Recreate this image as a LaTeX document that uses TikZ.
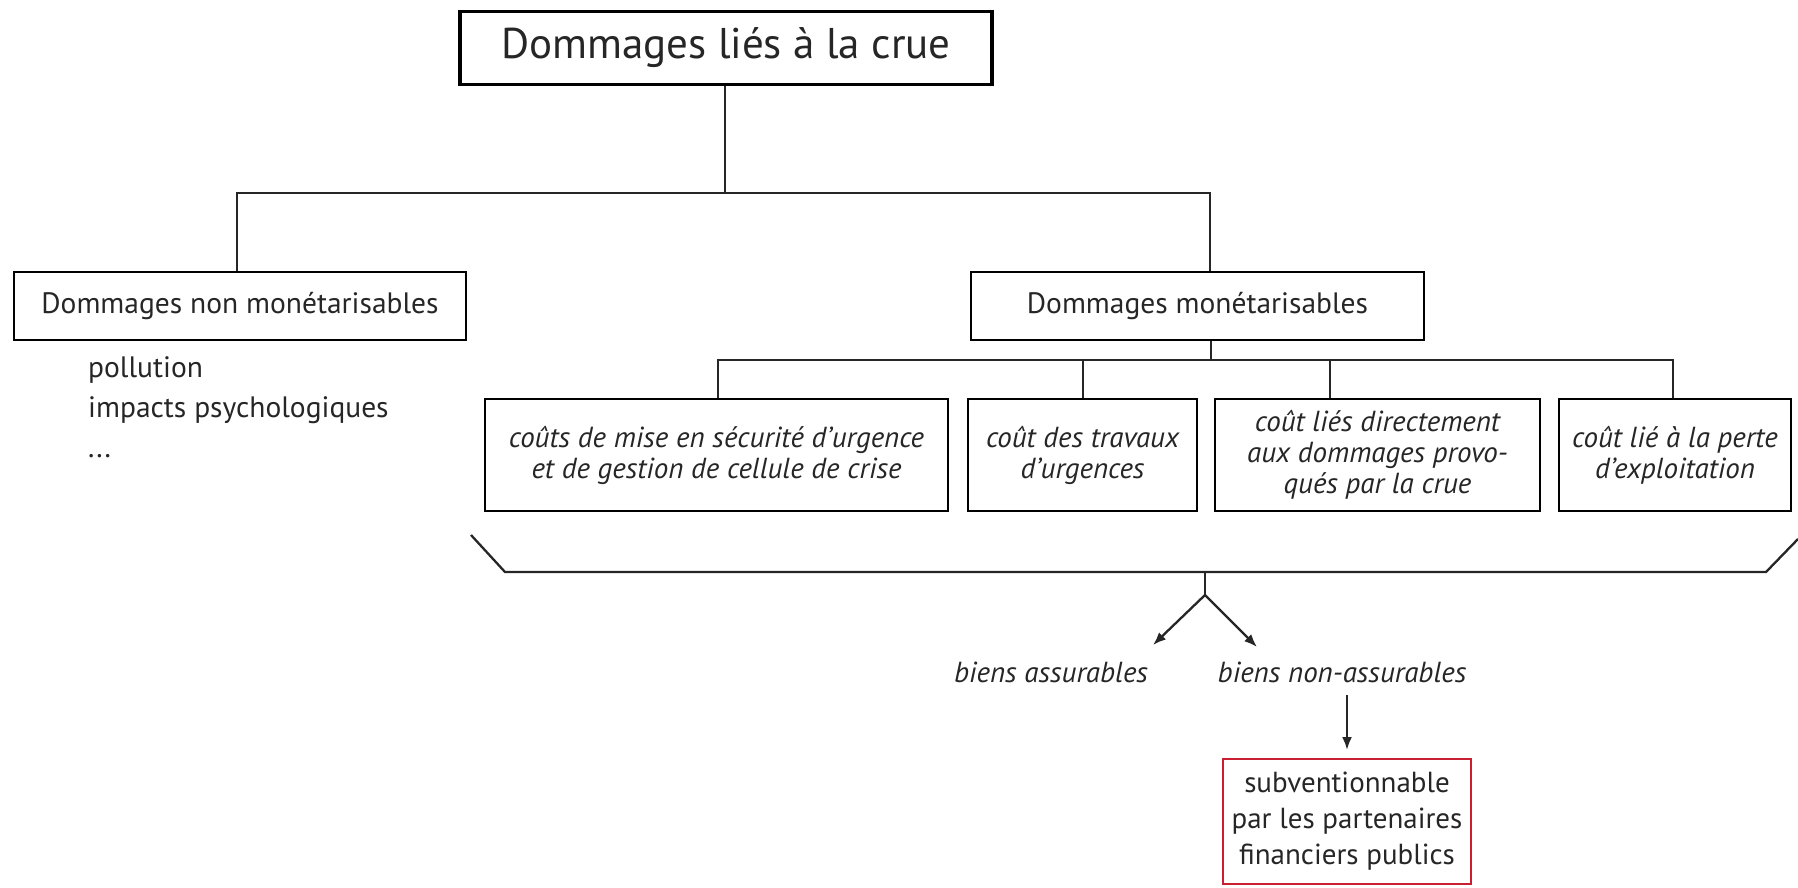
\documentclass[tikz,border=0pt]{standalone}
\usepackage{fontspec}
\setmainfont{PT Sans}
\usetikzlibrary{arrows.meta}
\definecolor{boxred}{RGB}{200,32,48}
\tikzset{
  box/.style={draw=black,line width=2.6pt,inner sep=0pt,align=center,text=black!85},
  conn/.style={draw=black!85,line width=2.3pt},
  arr/.style={draw=black!85,line width=2.3pt,-{Latex[length=13pt,width=10pt]}},
  child/.style={box,minimum height=112pt,font=\fontsize{29}{31}\selectfont\itshape},
  lbl/.style={inner sep=0pt,text=black!85},
}
\begin{document}
\begin{tikzpicture}[x=1pt,y=-1pt]
\useasboundingbox (0,0) rectangle (1798,888);
% main boxes
\node[box,line width=3.2pt,minimum width=532pt,minimum height=73pt,font=\fontsize{43}{48}\selectfont] (top) at (726,48) {Dommages liés à la crue};
\node[box,minimum width=452pt,minimum height=68pt,font=\fontsize{29.5}{32}\selectfont] (nm) at (240,306) {Dommages non monétarisables};
\node[box,minimum width=453pt,minimum height=68pt,font=\fontsize{29.5}{32}\selectfont] (mo) at (1197.5,306) {Dommages monétarisables};
% list under non monetarisables
\node[lbl,anchor=north west,align=left,font=\fontsize{29.5}{40}\selectfont] (list) at (88,356) {pollution\\impacts psychologiques\\...};
% child boxes
\node[child,minimum width=463pt] (c1) at (716.5,455) {coûts de mise en sécurité d'urgence\\et de gestion de cellule de crise};
\node[child,minimum width=229pt] (c2) at (1082.5,455) {coût des travaux\\d'urgences};
\node[child,minimum width=325pt] (c3) at (1377.5,455) {coût liés directement\\aux dommages provo-\\qués par la crue};
\node[child,minimum width=232pt] (c4) at (1675,455) {coût lié à la perte\\d'exploitation};
% tree connectors
\coordinate (h1) at (725,193);
\coordinate (hl) at (237,193);
\coordinate (hr) at (1210,193);
\draw[conn] (top.south -| h1) -- (h1);
\draw[conn] (hl |- nm.north) -- (hl) -- (hr) -- (hr |- mo.north);
\coordinate (m0) at (1211,360);
\coordinate (j1) at (718,360);
\coordinate (j2) at (1083,360);
\coordinate (j3) at (1330,360);
\coordinate (j4) at (1673,360);
\draw[conn] (mo.south -| m0) -- (m0);
\draw[conn] (j1 |- c1.north) -- (j1) -- (j4) -- (j4 |- c4.north);
\draw[conn] (j2) -- (j2 |- c2.north);
\draw[conn] (j3) -- (j3 |- c3.north);
% bracket
\coordinate (b1) at (471,535);
\coordinate (b2) at (505,572);
\coordinate (b3) at (1766,572);
\coordinate (b4) at (1798,539);
\coordinate (bm) at (1205,572);
\coordinate (bs) at (1205,595);
\draw[conn] (b1) -- (b2) -- (b3) -- (b4);
\draw[conn] (bm) -- (bs);
% labels
\node[lbl,font=\fontsize{29}{32}\selectfont\itshape] (ass) at (1051,672) {biens assurables};
\node[lbl,font=\fontsize{29}{32}\selectfont\itshape] (nass) at (1342,672) {biens non-assurables};
\coordinate (aL) at (1153,645);
\coordinate (aR) at (1257,647);
\draw[arr] (bs) -- (aL);
\draw[arr] (bs) -- (aR);
% red box
\node[box,draw=boxred,line width=2.8pt,minimum width=248pt,minimum height=125pt,font=\fontsize{29}{36}\selectfont] (sub) at (1347,821.5) {subventionnable\\par les partenaires\\financiers publics};
\coordinate (d0) at (1347,695);
\coordinate (d1) at (1347,750);
\draw[arr] (d0) -- (d1);
\end{tikzpicture}
\end{document}
